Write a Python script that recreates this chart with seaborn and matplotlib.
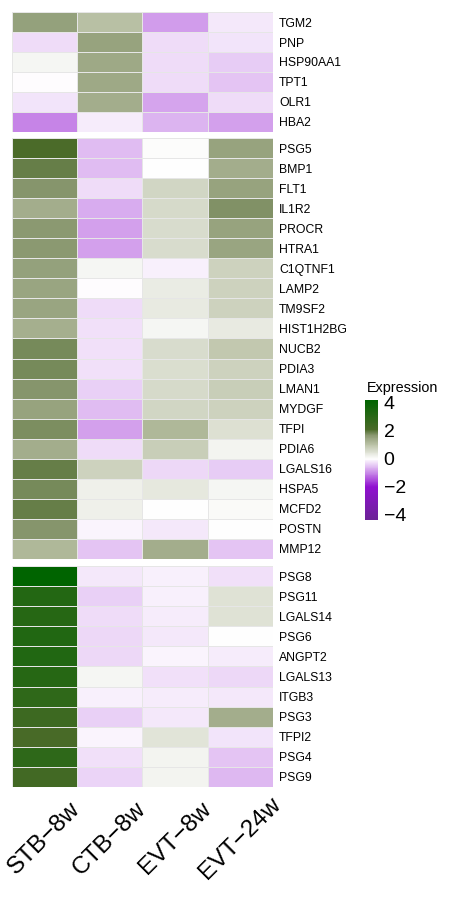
import numpy as np
import pandas as pd
import matplotlib
matplotlib.use("Agg")
import matplotlib.pyplot as plt
from matplotlib.colors import LinearSegmentedColormap, Normalize
import seaborn as sns

# column labels (cell type / time point)
samples = ["STB\u22128w", "CTB\u22128w", "EVT\u22128w", "EVT\u221224w"]

# row blocks, top to bottom
genes_top = ["TGM2", "PNP", "HSP90AA1", "TPT1", "OLR1", "HBA2"]
expr_top = [
    [1.56, 1.06, -0.83, -0.19],
    [-0.29, 1.53, -0.29, -0.24],
    [0.15, 1.42, -0.28, -0.44],
    [-0.01, 1.42, -0.28, -0.49],
    [-0.21, 1.34, -0.76, -0.28],
    [-1.03, -0.16, -0.63, -0.78],
]

genes_mid = ["PSG5", "BMP1", "FLT1", "IL1R2", "PROCR", "HTRA1", "C1QTNF1",
             "LAMP2", "TM9SF2", "HIST1H2BG", "NUCB2", "PDIA3", "LMAN1", "MYDGF",
             "TFPI", "PDIA6", "LGALS16", "HSPA5", "MCFD2", "POSTN", "MMP12"]
expr_mid = [
    [2.10, -0.56, 0.03, 1.50],
    [1.91, -0.56, 0.00, 1.34],
    [1.70, -0.28, 0.67, 1.50],
    [1.34, -0.68, 0.61, 1.76],
    [1.67, -0.80, 0.58, 1.50],
    [1.67, -0.80, 0.58, 1.48],
    [1.56, 0.13, -0.13, 0.73],
    [1.48, -0.04, 0.31, 0.73],
    [1.48, -0.29, 0.34, 0.76],
    [1.31, -0.26, 0.13, 0.34],
    [1.80, -0.26, 0.58, 0.91],
    [1.80, -0.26, 0.55, 0.73],
    [1.70, -0.40, 0.61, 0.82],
    [1.50, -0.56, 0.67, 0.76],
    [1.79, -0.80, 1.17, 0.52],
    [1.36, -0.29, 0.82, 0.16],
    [1.91, 0.76, -0.33, -0.44],
    [1.82, 0.25, 0.37, 0.15],
    [1.91, 0.25, 0.01, 0.07],
    [1.70, -0.08, -0.19, 0.01],
    [1.17, -0.49, 1.36, -0.48],
]

genes_bot = ["PSG8", "PSG11", "LGALS14", "PSG6", "ANGPT2", "LGALS13",
             "ITGB3", "PSG3", "TFPI2", "PSG4", "PSG9"]
expr_bot = [
    [4.20, -0.19, -0.14, -0.26],
    [3.18, -0.38, -0.14, 0.49],
    [3.12, -0.29, -0.16, 0.49],
    [3.24, -0.33, -0.19, 0.01],
    [3.24, -0.33, -0.08, -0.16],
    [3.12, 0.15, -0.26, -0.33],
    [2.84, -0.13, -0.16, -0.18],
    [2.44, -0.38, -0.19, 1.36],
    [2.16, -0.09, 0.43, -0.23],
    [2.90, -0.26, 0.19, -0.49],
    [2.33, -0.36, 0.19, -0.59],
]

legend_ticks = [-4, -2, 0, 2, 4]

vmin, vmax = -4.36, 4.21
anchors = [(-4.36, "#6b2396"), (-2.0, "#9010d0"), (0.0, "#ffffff"),
           (1.0, "#bcc3a8"), (1.7, "#8a9870"), (2.1, "#4a6a28"), (4.21, "#006400")]
cmap = LinearSegmentedColormap.from_list(
    "expr", [((v - vmin) / (vmax - vmin), c) for v, c in anchors])
norm = Normalize(vmin=vmin, vmax=vmax)

sns.set_style("white")
plt.rcParams["font.family"] = ["Liberation Sans", "DejaVu Sans"]
plt.rcParams["text.color"] = "black"

W, H = 450, 900
fig = plt.figure(figsize=(W / 100, H / 100), dpi=100)


def px_axes(x0, y0, x1, y1):
    return fig.add_axes([x0 / W, 1 - y1 / H, (x1 - x0) / W, (y1 - y0) / H])


blocks = [
    (genes_top, expr_top, (12, 12, 273, 132)),
    (genes_mid, expr_mid, (12, 138, 273, 559)),
    (genes_bot, expr_bot, (12, 566, 273, 787)),
]

for i, (genes, vals, box) in enumerate(blocks):
    ax = px_axes(*box)
    df = pd.DataFrame(vals, index=genes, columns=samples)
    last = i == len(blocks) - 1
    sns.heatmap(df, ax=ax, cmap=cmap, norm=norm, cbar=False,
                linewidths=0.4, linecolor="#e6e6e6",
                xticklabels=samples if last else False, yticklabels=genes)
    ax.yaxis.tick_right()
    ax.tick_params(axis="y", length=0, pad=4.5, labelsize=8.8, labelrotation=0,
                   labelcolor="black")
    for lab in ax.get_yticklabels():
        lab.set_ha("left")
    if last:
        ax.tick_params(axis="x", length=0, pad=37, labelsize=17.5,
                       labelcolor="black")
        for lab in ax.get_xticklabels():
            lab.set_rotation(45)
            lab.set_ha("center")
            lab.set_va("center")
    ax.set_xlabel("")
    ax.set_ylabel("")

# colour legend
cax = px_axes(365, 400, 378, 520)
sm = plt.cm.ScalarMappable(cmap=cmap, norm=norm)
cb = fig.colorbar(sm, cax=cax, ticks=legend_ticks)
cb.outline.set_visible(False)
cax.tick_params(axis="y", which="both", direction="in", left=True, right=True,
                length=3.5, width=1, color="white", labelsize=14, pad=4,
                labelcolor="black")
fig.text(367 / W, 1 - 388 / H, "Expression", ha="left", va="center", fontsize=10.4)

fig.savefig("out.png", dpi=100)
